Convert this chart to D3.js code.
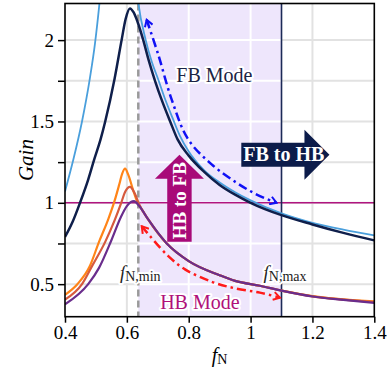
<!DOCTYPE html>
<html>
<head>
<meta charset="utf-8">
<script src="https://cdn.jsdelivr.net/npm/d3@7"></script>
<style>
  body { margin: 0; background: #fff; }
  svg { display: block; }
</style>
</head>
<body>
<div id="chart"></div>
<script>
// gain curves, [fN, gain]
const fbLight = [[0.40, 1.07], [0.427, 1.266], [0.455, 1.5], [0.48, 1.76], [0.497, 1.98], [0.51, 2.2],
  [0.525, 2.5], [0.55, 2.95], [0.575, 3.15], [0.60, 2.95], [0.62, 2.55], [0.637, 2.23], [0.661, 2.0],
  [0.68, 1.87], [0.702, 1.755], [0.725, 1.63], [0.748, 1.52], [0.772, 1.41], [0.80, 1.315], [0.85, 1.2],
  [0.90, 1.125], [0.95, 1.065], [1.0, 1.015], [1.1, 0.935], [1.2, 0.877], [1.3, 0.835], [1.4, 0.80]];
const fbDark = [[0.40, 0.79], [0.425, 0.885], [0.4485, 1.0], [0.475, 1.143], [0.495, 1.27], [0.515, 1.39],
  [0.53, 1.5], [0.56, 1.76], [0.583, 2.0], [0.596, 2.13], [0.61, 2.195], [0.622, 2.17], [0.635, 2.11],
  [0.653, 2.0], [0.67, 1.88], [0.691, 1.75], [0.715, 1.62], [0.74, 1.5], [0.764, 1.39], [0.80, 1.29],
  [0.85, 1.19], [0.90, 1.11], [0.95, 1.05], [1.0, 1.0], [1.1, 0.924], [1.2, 0.867], [1.3, 0.815], [1.4, 0.769]];
const hbLight = [[0.40, 0.435], [0.44, 0.50], [0.48, 0.61], [0.51, 0.76], [0.54, 0.90], [0.56, 1.01],
  [0.575, 1.11], [0.585, 1.18], [0.594, 1.21], [0.605, 1.17], [0.62, 1.08], [0.635, 1.0], [0.65, 0.955],
  [0.669, 0.898], [0.729, 0.75], [0.80, 0.642], [0.90, 0.555], [0.95, 0.52], [1.03, 0.49], [1.1, 0.46],
  [1.2, 0.427], [1.3, 0.407], [1.4, 0.395]];
const hbMid = [[0.40, 0.405], [0.455, 0.50], [0.49, 0.62], [0.53, 0.76], [0.56, 0.89], [0.58, 0.99],
  [0.595, 1.07], [0.61, 1.098], [0.625, 1.06], [0.64, 0.99], [0.669, 0.898], [0.729, 0.75], [0.80, 0.642],
  [0.90, 0.555], [0.95, 0.52], [1.03, 0.49], [1.1, 0.46], [1.2, 0.425], [1.3, 0.405], [1.4, 0.39]];
const hbDark = [[0.40, 0.376], [0.475, 0.50], [0.51, 0.60], [0.55, 0.77], [0.58, 0.91], [0.60, 0.98],
  [0.623, 1.01], [0.64, 0.98], [0.669, 0.898], [0.729, 0.75], [0.80, 0.642], [0.90, 0.555], [0.95, 0.52],
  [1.03, 0.49], [1.1, 0.46], [1.2, 0.424], [1.3, 0.403], [1.4, 0.385]];

const xTicks = [0.4, 0.6, 0.8, 1, 1.2, 1.4];
const yTicks = [0.5, 0.75, 1, 1.25, 1.5, 1.75, 2];
const yLabels = [0.5, 1, 1.5, 2];
const fnMin = 0.637, fnMax = 1.1, unityGain = 1;

// dash-dot annotation arrows
const fbSweep = [[0.664, 2.125], [0.7016, 1.91], [0.745, 1.634], [0.7986, 1.389], [0.875, 1.235],
  [0.955, 1.123], [1.02, 1.051], [1.084, 1.0]];
const hbSweep = [[0.648, 0.856], [0.675, 0.795], [0.734, 0.672], [0.788, 0.591], [0.874, 0.515],
  [0.95, 0.474], [1.03, 0.448], [1.095, 0.417]];

const SERIF = '"Liberation Serif"';
const width = 387, height = 373;
const margin = {top: 3.5, right: 12.7, bottom: 56.3, left: 65};
const plotW = width - margin.left - margin.right;
const plotH = height - margin.top - margin.bottom;

const x = d3.scaleLinear().domain([0.4, 1.4]).range([margin.left, width - margin.right]);
const y = d3.scaleLinear().domain([0.3, 2.225]).range([height - margin.bottom, margin.top]);

const svg = d3.select("#chart").append("svg")
  .attr("width", width)
  .attr("height", height);

const defs = svg.append("defs");
defs.append("clipPath").attr("id", "plot")
  .append("rect")
  .attr("x", margin.left).attr("y", margin.top)
  .attr("width", plotW).attr("height", plotH);

function addMarker(id, color) {
  defs.append("marker")
    .attr("id", id)
    .attr("viewBox", "0 0 10 10")
    .attr("refX", 8).attr("refY", 5)
    .attr("markerWidth", 4).attr("markerHeight", 4)
    .attr("orient", "auto-start-reverse")
    .append("path")
    .attr("d", "M1.5,1 L8,5 L1.5,9")
    .attr("fill", "none")
    .attr("stroke", color)
    .attr("stroke-width", 2);
}
addMarker("headBlue", "#1010f5");
addMarker("headRed", "#ff1a1a");

// grey grid
const grid = svg.append("g");
grid.selectAll(".gx").data(xTicks.slice(1, -1)).enter().append("line")
  .attr("x1", d => x(d)).attr("x2", d => x(d))
  .attr("y1", margin.top).attr("y2", height - margin.bottom)
  .attr("stroke", "#e2e2e2").attr("stroke-width", 2);
grid.selectAll(".gy").data(yTicks).enter().append("line")
  .attr("x1", margin.left).attr("x2", width - margin.right)
  .attr("y1", d => y(d)).attr("y2", d => y(d))
  .attr("stroke", "#e2e2e2").attr("stroke-width", 2);

// operating region
svg.append("rect")
  .attr("x", x(fnMin)).attr("y", margin.top)
  .attr("width", x(fnMax) - x(fnMin)).attr("height", plotH)
  .attr("fill", "#eee6fc");

const shadeGrid = svg.append("g");
shadeGrid.selectAll(".wx").data(xTicks.filter(d => d > fnMin && d < fnMax)).enter().append("line")
  .attr("x1", d => x(d)).attr("x2", d => x(d))
  .attr("y1", margin.top).attr("y2", height - margin.bottom)
  .attr("stroke", "#fff").attr("stroke-width", 2);
shadeGrid.selectAll(".wy").data(yTicks).enter().append("line")
  .attr("x1", x(fnMin)).attr("x2", x(fnMax))
  .attr("y1", d => y(d)).attr("y2", d => y(d))
  .attr("stroke", "#fff").attr("stroke-width", 2);

// reference lines
svg.append("line")
  .attr("x1", margin.left).attr("x2", width - margin.right)
  .attr("y1", y(unityGain)).attr("y2", y(unityGain))
  .attr("stroke", "#b0157f").attr("stroke-width", 1.6);
svg.append("line")
  .attr("x1", x(fnMin)).attr("x2", x(fnMin))
  .attr("y1", margin.top).attr("y2", height - margin.bottom)
  .attr("stroke", "#9a9a9a").attr("stroke-width", 2.5)
  .attr("stroke-dasharray", "7,4");
svg.append("line")
  .attr("x1", x(fnMax)).attr("x2", x(fnMax))
  .attr("y1", margin.top).attr("y2", height - margin.bottom)
  .attr("stroke", "#1c2a57").attr("stroke-width", 1.6);

// gain curves
const line = d3.line()
  .x(d => x(d[0]))
  .y(d => y(d[1]))
  .curve(d3.curveMonotoneX);

const curves = [
  {data: fbLight, color: "#4a9fdc", w: 1.8},
  {data: fbDark, color: "#0f1f4b", w: 2.5},
  {data: hbLight, color: "#ff8418", w: 2.2},
  {data: hbMid, color: "#d65a3e", w: 2.2},
  {data: hbDark, color: "#6a2d8c", w: 2.2}
];
const curveG = svg.append("g").attr("clip-path", "url(#plot)");
curveG.selectAll("path").data(curves).enter().append("path")
  .attr("d", d => line(d.data))
  .attr("fill", "none")
  .attr("stroke", d => d.color)
  .attr("stroke-width", d => d.w);

// dash-dot sweep arrows
const sweep = d3.line()
  .x(d => x(d[0]))
  .y(d => y(d[1]))
  .curve(d3.curveCatmullRom);
svg.append("path")
  .attr("d", sweep(fbSweep))
  .attr("fill", "none").attr("stroke", "#1010f5").attr("stroke-width", 2.5)
  .attr("stroke-dasharray", "9,4,2.5,4")
  .attr("marker-start", "url(#headBlue)").attr("marker-end", "url(#headBlue)");
svg.append("path")
  .attr("d", sweep(hbSweep))
  .attr("fill", "none").attr("stroke", "#ff1a1a").attr("stroke-width", 2.5)
  .attr("stroke-dasharray", "9,4,2.5,4")
  .attr("marker-start", "url(#headRed)").attr("marker-end", "url(#headRed)");

// big block arrows
const toHB = {x0: x(0.97), x1: x(1.255), cy: y(1.296), body: 12, head: 25, len: 25};
svg.append("path")
  .attr("d", `M${toHB.x0},${toHB.cy - toHB.body} H${toHB.x1 - toHB.len} V${toHB.cy - toHB.head}
    L${toHB.x1},${toHB.cy} L${toHB.x1 - toHB.len},${toHB.cy + toHB.head} V${toHB.cy + toHB.body}
    H${toHB.x0} Z`)
  .attr("fill", "#0c1c4a");
svg.append("text")
  .attr("x", (toHB.x0 + toHB.x1) / 2 - 1.5).attr("y", toHB.cy + 6.7)
  .attr("text-anchor", "middle").style("font-family", SERIF)
  .attr("font-size", 20).attr("font-weight", "bold").attr("fill", "#fff")
  .text("FB to HB");

const toFB = {cx: x(0.77), y0: y(0.761), y1: y(1.296), body: 12.2, head: 24.5, len: 24};
svg.append("path")
  .attr("d", `M${toFB.cx - toFB.body},${toFB.y0} V${toFB.y1 + toFB.len} H${toFB.cx - toFB.head}
    L${toFB.cx},${toFB.y1} L${toFB.cx + toFB.head},${toFB.y1 + toFB.len} H${toFB.cx + toFB.body}
    V${toFB.y0} Z`)
  .attr("fill", "#a80a78");
svg.append("text")
  .attr("transform", `translate(${toFB.cx + 6.5},${(toFB.y0 + toFB.y1) / 2 + 2.5}) rotate(-90)`)
  .attr("text-anchor", "middle").style("font-family", SERIF)
  .attr("font-size", 19).attr("font-weight", "bold").attr("fill", "#fff")
  .text("HB to FB");

// region labels with white halo
function halo(sel) {
  return sel.attr("stroke", "#fff").attr("stroke-width", 4).style("font-family", SERIF)
    .attr("stroke-linejoin", "round").attr("paint-order", "stroke");
}
halo(svg.append("text")
  .attr("x", x(0.883)).attr("y", y(1.74))
  .attr("text-anchor", "middle").attr("font-size", 20).attr("fill", "#1b2444")
  .text("FB Mode"));
halo(svg.append("text")
  .attr("x", x(0.836)).attr("y", y(0.345))
  .attr("text-anchor", "middle").attr("font-size", 20).attr("fill", "#b0107a")
  .text("HB Mode"));

function freqLabel(fx, sub, dx) {
  const t = halo(svg.append("text")
    .attr("x", x(fx) + dx).attr("y", y(0.532))
    .attr("text-anchor", "middle").attr("fill", "#222"));
  t.append("tspan").attr("font-size", 19).attr("font-style", "italic").text("f");
  t.append("tspan").attr("font-size", 14).attr("dy", 2).text(sub);
}
freqLabel(fnMin, "N,min", 2);
freqLabel(fnMax, "N,max", 3.5);

// axes
const xAxis = svg.append("g")
  .attr("transform", `translate(0,${height - margin.bottom})`)
  .call(d3.axisBottom(x).tickValues(xTicks).tickSize(6).tickPadding(3).tickFormat(d3.format("")));
const yAxis = svg.append("g")
  .attr("transform", `translate(${margin.left},0)`)
  .call(d3.axisLeft(y).tickValues(yTicks).tickSize(7).tickPadding(4)
    .tickFormat(d => yLabels.includes(d) ? d3.format("")(d) : ""));
[xAxis, yAxis].forEach(a => {
  a.select(".domain").remove();
  a.selectAll(".tick line").attr("stroke", "#000").attr("stroke-width", 1.5);
  a.selectAll(".tick text").attr("font-size", 19).attr("fill", "#000")
    .style("font-family", SERIF);
});

svg.append("rect")
  .attr("x", margin.left).attr("y", margin.top)
  .attr("width", plotW).attr("height", plotH)
  .attr("fill", "none").attr("stroke", "#000").attr("stroke-width", 1.6);

// axis titles
svg.append("text")
  .attr("transform", `translate(33,${margin.top + plotH / 2}) rotate(-90)`)
  .attr("text-anchor", "middle").attr("font-size", 21).attr("font-style", "italic")
  .style("font-family", SERIF)
  .text("Gain");
const xt = svg.append("text")
  .attr("x", margin.left + plotW / 2).attr("y", 362)
  .attr("text-anchor", "middle").style("font-family", SERIF);
xt.append("tspan").attr("font-size", 20).attr("font-style", "italic").text("f");
xt.append("tspan").attr("font-size", 14).attr("dy", 2).text("N");
</script>
</body>
</html>
